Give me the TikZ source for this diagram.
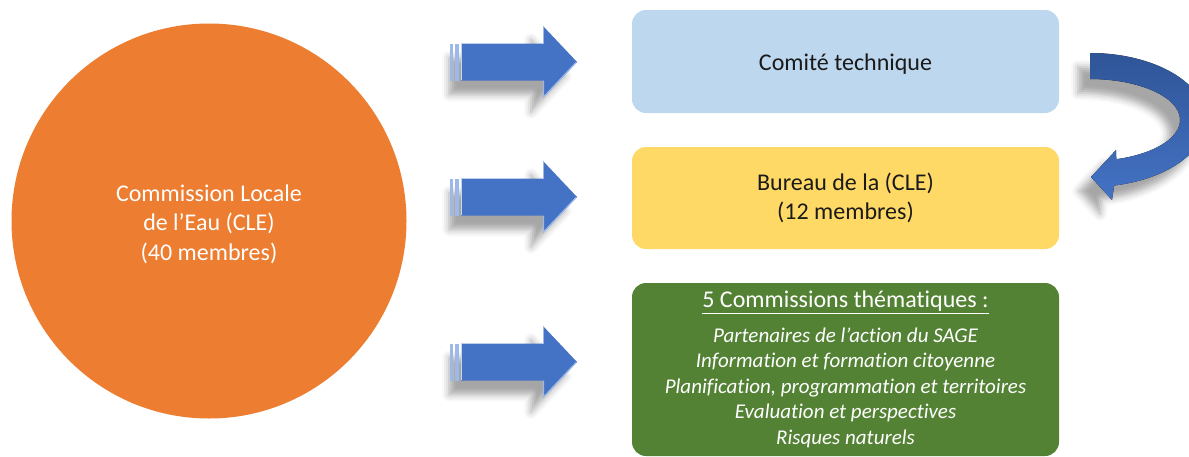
\documentclass[tikz,border=0pt]{standalone}
\usepackage{fontspec}
\setmainfont{Carlito}[Ligatures=NoCommon]
\usetikzlibrary{shadows.blur}
\definecolor{cleorange}{HTML}{ED7D31}
\definecolor{ctblue}{HTML}{BDD7EE}
\definecolor{buryellow}{HTML}{FFD966}
\definecolor{comgreen}{HTML}{548235}
\definecolor{arrowblue}{HTML}{4472C4}
\definecolor{arrowlight}{HTML}{9DB9E8}
\definecolor{curvedark}{HTML}{2F5597}
\definecolor{textdark}{HTML}{1A1A1A}
\newcommand{\itline}{\fontsize{21}{25.5}\selectfont\itshape}
\newcommand{\lowtext}[1]{\raisebox{-3pt}[\height][\depth]{#1}}
\tikzset{
  mainfont/.style={font=\fontsize{24}{29.5}\selectfont},
  roundbox/.style={rectangle, rounded corners=14pt, minimum width=427pt,
    inner sep=0pt, align=center, mainfont, text=textdark},
  arrowshadow/.style={blur shadow={shadow xshift=-12pt, shadow yshift=-14pt,
    shadow blur radius=7pt, shadow opacity=35}},
  pics/striparrow/.style={code={
    \fill[arrowblue, arrowshadow] (11,-18.5) -- (93,-18.5) -- (93,-36) -- (127,0)
      -- (93,36) -- (93,18.5) -- (11,18.5) -- cycle;
    \draw[arrowlight, line width=1.2pt] (93.6,18.5) -- (93.6,35) -- (126,0.5);
    \draw[arrowlight, line width=1.2pt] (93.6,-18.5) -- (93.6,-35);
    \draw[arrowlight!60!white, line width=1pt] (11.5,-18) -- (11.5,18);
    \fill[arrowlight] (0,-18.5) rectangle (3,18.5);
    \fill[arrowlight] (5,-18.5) rectangle (9,18.5);
  }}
}
\begin{document}
\begin{tikzpicture}[x=1pt, y=-1pt]
\useasboundingbox (0,0) rectangle (1189,456);

% main circle
\node[circle, fill=cleorange, minimum size=395pt, inner sep=0pt, align=center,
      text=white, mainfont] (cle) at (209,221)
  {\lowtext{Commission Locale}\\\lowtext{de l’Eau (CLE)}\\\lowtext{(40 membres)}};

% boxes
\node[roundbox, fill=ctblue, minimum height=103pt] (ct) at (845.5,61.5)
  {\lowtext{Comité technique}};
\node[roundbox, fill=buryellow, minimum height=102pt] (bur) at (845.5,198)
  {Bureau de la (CLE)\\(12 membres)};
\node[roundbox, fill=comgreen, minimum height=173pt, text=white] (com) at (845.5,369.5)
  {\underline{5 Commissions thématiques :}\\[5pt]
   \itline Partenaires de l’action du SAGE\\[-4pt]
   \itline Information et formation citoyenne\\[-4pt]
   \itline Planification, programmation et territoires\\[-4pt]
   \itline Evaluation et perspectives\\[-4pt]
   \itline Risques naturels};

% striped block arrows
\pic at (450,62) {striparrow};
\pic at (450,197) {striparrow};
\pic at (450,362) {striparrow};

% curved arrow from Comité technique to Bureau
\fill[top color=curvedark, bottom color=arrowblue, arrowshadow]
  plot[domain=90:-78, samples=60] ({1090+116*cos(\x)},{120-67*sin(\x)})
  -- (1112,200) -- (1091,177) -- (1116,150)
  -- plot[domain=-73:90, samples=60] ({1090+90*cos(\x)},{120-41*sin(\x)})
  -- cycle;
\end{tikzpicture}
\end{document}
